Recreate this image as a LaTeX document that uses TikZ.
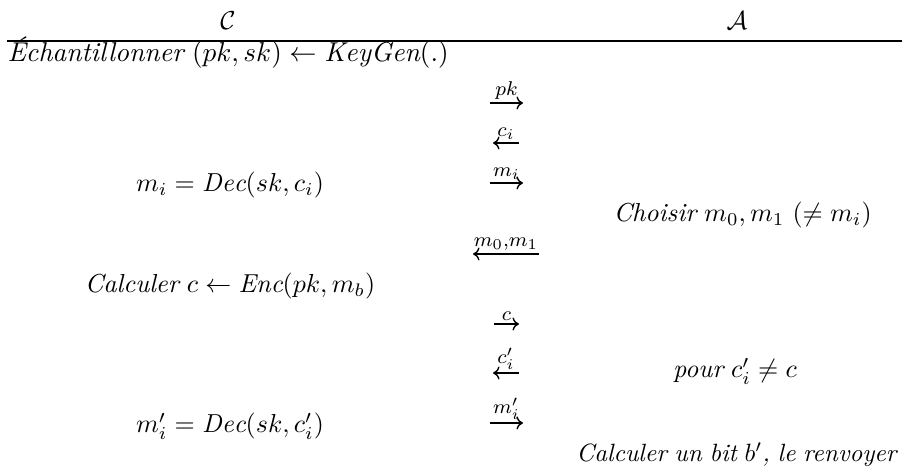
\RequirePackage{fix-cm}
\documentclass[tikz,border=0pt]{standalone}
\usepackage{amsmath,amssymb}
\usepackage{fontspec}
\setmainfont{Latin Modern Roman}[WordSpace=0.85]
\usetikzlibrary{arrows.meta}
\begin{document}
\begin{tikzpicture}[x=0.4pt,y=-0.4pt,
  txt/.style={font=\fontsize{10.4}{12.5}\selectfont\itshape, inner sep=0pt},
  lbl/.style={font=\fontsize{8}{9}\selectfont, inner sep=1pt, above},
  msg/.style={-{To[length=2.6pt,width=5.2pt]}, line width=0.55pt},
  rule/.style={line width=0.8pt}
]
\useasboundingbox (0,0) rectangle (902,471);
% headers
\node[txt, anchor=base] (hC) at (228,30) {$\mathcal{C}$};
\node[txt, anchor=base] (hA) at (737,30) {$\mathcal{A}$};
\coordinate (rL) at (7,41);
\coordinate (rR) at (902,41);
\draw[rule] (rL) -- (rR);
% challenger column
\node[txt, font=\fontsize{10.9}{13}\selectfont\itshape, anchor=base west] (keygen) at (7,62) {Échantillonner $(pk, sk) \leftarrow \mathit{KeyGen}(.)$};
\node[txt, anchor=base] (dec1) at (230,192) {$m_i = \mathit{Dec}(sk, c_i)$};
\node[txt, anchor=base] (enc) at (230,293) {Calculer $c \leftarrow \mathit{Enc}(pk, m_b)$};
\node[txt, anchor=base] (dec2) at (230,433) {$m'_i = \mathit{Dec}(sk, c'_i)$};
% adversary column
\node[txt, anchor=base west] (choose) at (613,222) {Choisir $m_0, m_1$ $(\neq m_i)$};
\node[txt, anchor=base] (pour) at (735,378) {pour $c'_i \neq c$};
\node[txt, font=\fontsize{10}{12}\selectfont\itshape, anchor=base east] (guess) at (897,462) {Calculer un bit $b'$, le renvoyer};
% messages
\coordinate (pkW) at (490,103);  \coordinate (pkE) at (523,103);
\coordinate (ciW) at (493,143);  \coordinate (ciE) at (519,143);
\coordinate (miW) at (490,183);  \coordinate (miE) at (523,183);
\coordinate (mbW) at (473,254);  \coordinate (mbE) at (539,254);
\coordinate (cW)  at (494,324);  \coordinate (cE)  at (519,324);
\coordinate (cpW) at (493,373);  \coordinate (cpE) at (519,373);
\coordinate (mpW) at (490,423);  \coordinate (mpE) at (523,423);
\draw[msg] (pkW) -- (pkE) node[midway, lbl] (lpk) {$pk$};
\draw[msg] (ciE) -- (ciW) node[midway, lbl] (lci) {$c_i$};
\draw[msg] (miW) -- (miE) node[midway, lbl] (lmi) {$m_i$};
\draw[msg] (mbE) -- (mbW) node[midway, lbl] (lmb) {$m_0{,}m_1$};
\draw[msg] (cW) -- (cE) node[midway, lbl] (lc) {$c$};
\draw[msg] (cpE) -- (cpW) node[midway, lbl] (lcp) {$c'_i$};
\draw[msg] (mpW) -- (mpE) node[midway, lbl] (lmp) {$m'_i$};
\end{tikzpicture}
\end{document}
